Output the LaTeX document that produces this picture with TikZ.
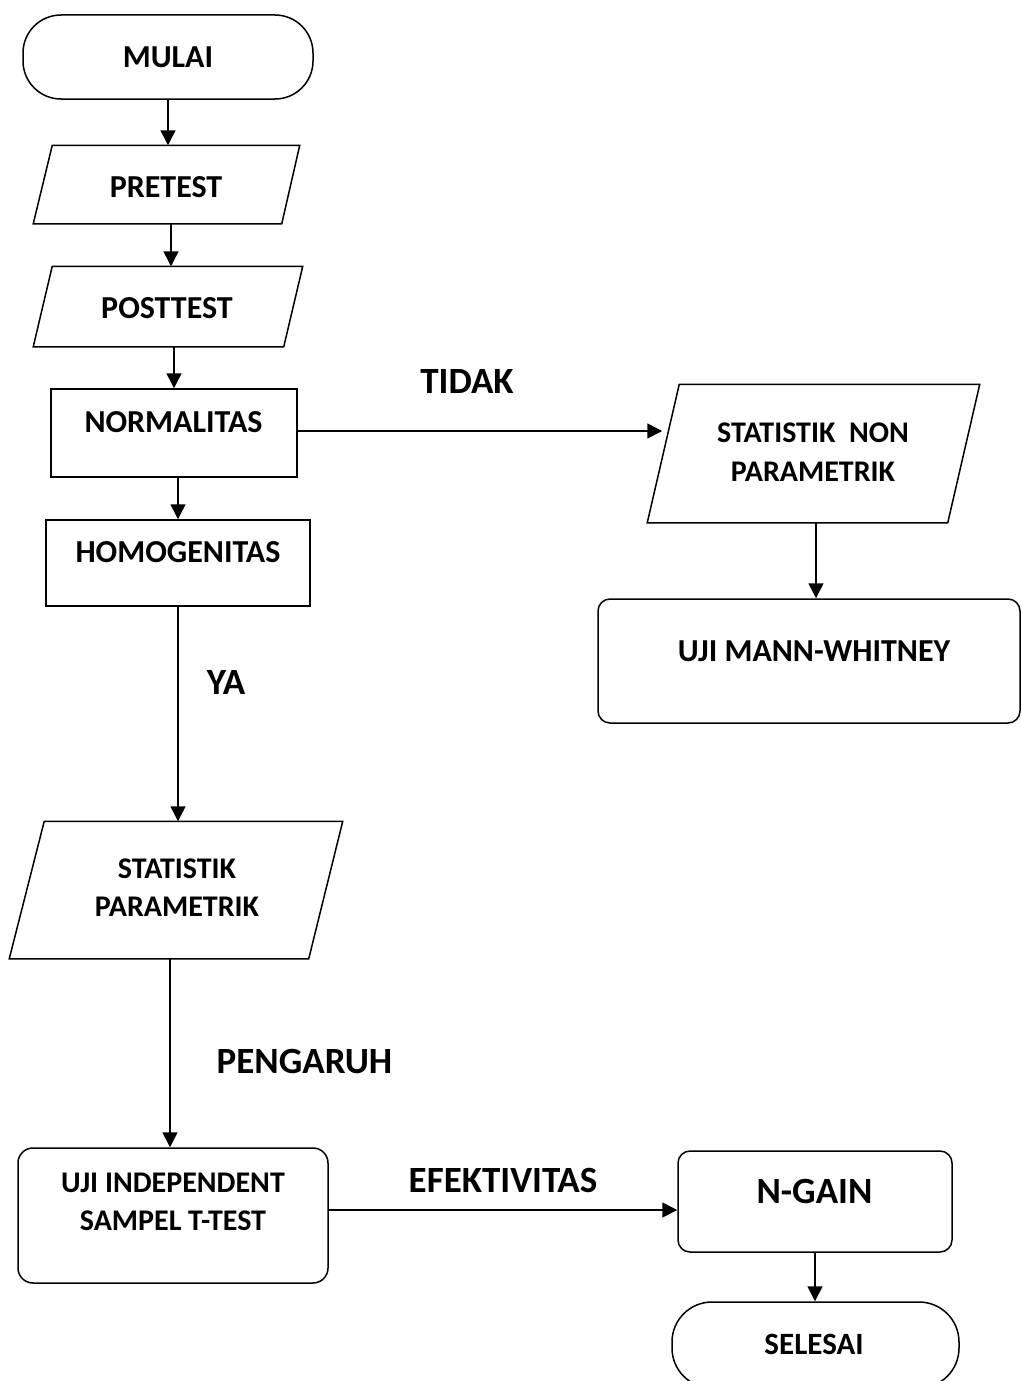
\documentclass[tikz,border=0pt]{standalone}
\usepackage{fontspec}
\setmainfont{Carlito}
\usetikzlibrary{arrows.meta,fit,calc}
\begin{document}
\begin{tikzpicture}[x=1pt,y=-1pt,
  line width=1.5pt,
  frame/.style={fit={#1}, inner sep=0pt, draw},
  shell/.style={fit={#1}, inner sep=0pt},
  txt/.style={inner sep=0pt, font=\bfseries\fontsize{32}{38.5}\selectfont, align=center},
  txtm/.style={inner sep=0pt, font=\bfseries\fontsize{30}{38.6}\selectfont, align=center},
  lbl/.style={inner sep=0pt, font=\bfseries\fontsize{37}{40}\selectfont},
  arr/.style={-{Triangle[length=15pt,width=15pt]}}]
\useasboundingbox (0,0) rectangle (1022,1381);

% terminals and process boxes
\node[frame={(23,15) (313,99)}, rounded corners=38pt] (mulai) {};
\node[frame={(51,389) (297,477)}] (normalitas) {};
\node[frame={(46,520) (310,606)}] (homog) {};
\node[frame={(598,599) (1020,723)}, rounded corners=12pt] (mann) {};
\node[frame={(18,1148) (328,1283)}, rounded corners=15pt] (uji) {};
\node[frame={(678,1151) (952,1252)}, rounded corners=12pt] (ngain) {};
\node[frame={(672,1302) (959,1388)}, rounded corners=40pt] (selesai) {};

% input/output parallelograms
\node[shell={(34,146) (299,223)}] (pretest) {};
\draw ([xshift=19pt]pretest.north west) -- (pretest.north east)
  -- ([xshift=-18pt]pretest.south east) -- (pretest.south west) -- cycle;
\node[shell={(34,267) (302,346)}] (posttest) {};
\draw ([xshift=19pt]posttest.north west) -- (posttest.north east)
  -- ([xshift=-19pt]posttest.south east) -- (posttest.south west) -- cycle;
\node[shell={(648,385) (979,522)}] (statnon) {};
\draw ([xshift=32pt]statnon.north west) -- (statnon.north east)
  -- ([xshift=-32pt]statnon.south east) -- (statnon.south west) -- cycle;
\node[shell={(10,822) (342,958)}] (statpar) {};
\draw ([xshift=35pt]statpar.north west) -- (statpar.north east)
  -- ([xshift=-34pt]statpar.south east) -- (statpar.south west) -- cycle;

% texts inside the shapes
\node[txt] (t-mulai) at (168,57) {MULAI};
\node[txt] (t-pretest) at (166,187) {PRETEST};
\node[txt] (t-posttest) at (167,308) {POSTTEST};
\node[txt] (t-normalitas) at (173.5,422) {NORMALITAS};
\node[txt] (t-homog) at (178,552) {HOMOGENITAS};
\node[txtm] (t-statnon) at (813,452) {STATISTIK\ \ NON\\PARAMETRIK};
\node[txt] (t-mann) at (814,651) {UJI MANN-WHITNEY};
\node[txtm] (t-statpar) at (177,887.5) {STATISTIK\\PARAMETRIK};
\node[txtm] (t-uji) at (173,1202) {UJI INDEPENDENT\\SAMPEL T-TEST};
\node[txt, font=\bfseries\fontsize{37}{40}\selectfont] (t-ngain) at (814.5,1191) {N-GAIN};
\node[txt, font=\bfseries\fontsize{31}{38}\selectfont] (t-selesai) at (814,1344) {SELESAI};

% branch labels
\node[lbl] (l-tidak) at (467,381) {TIDAK};
\node[lbl] (l-ya) at (226,682) {YA};
\node[lbl] (l-pengaruh) at (304.5,1061.5) {PENGARUH};
\node[lbl] (l-efektivitas) at (503,1180) {EFEKTIVITAS};

% connectors
\draw[arr] (mulai.south) -- (mulai.south |- pretest.north);
\coordinate (c1) at ($(pretest.south)+(4.5,0)$);
\draw[arr] (c1) -- (c1 |- posttest.north);
\draw[arr] (normalitas.north |- posttest.south) -- (normalitas.north);
\draw[arr] (homog.north |- normalitas.south) -- (homog.north);
\draw[arr] (homog.south) -- (homog.south |- statpar.north);
\coordinate (c2) at ($(uji.north)+(-3,0)$);
\draw[arr] (c2 |- statpar.south) -- (c2);
\coordinate (c3) at ($(uji.east)+(0,-5.5)$);
\draw[arr] (c3) -- (c3 -| ngain.west);
\draw[arr] (ngain.south) -- (ngain.south |- selesai.north);
\coordinate (c4) at ($(normalitas.east)+(0,-2)$);
\coordinate (c5) at ($(c4 -| statnon.west)+(15,0)$);
\draw[arr] (c4) -- (c5);
\coordinate (c6) at ($(statnon.south)+(2.5,0)$);
\draw[arr] (c6) -- (c6 |- mann.north);
\end{tikzpicture}
\end{document}
